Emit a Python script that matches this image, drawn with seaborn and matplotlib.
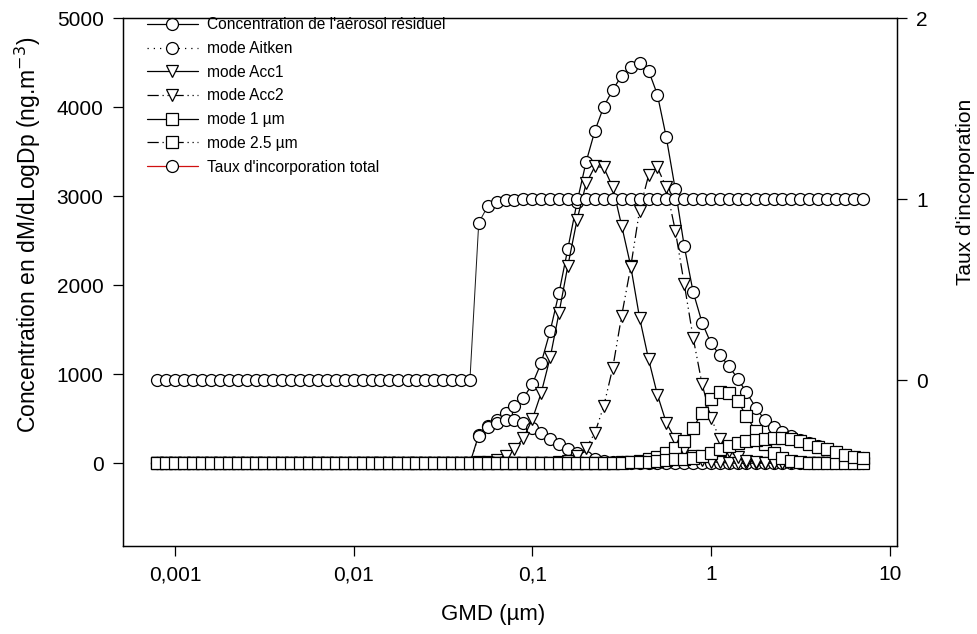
import matplotlib
matplotlib.use("Agg")
import matplotlib.pyplot as plt
from matplotlib.ticker import FixedLocator, FixedFormatter, NullLocator
from matplotlib.lines import Line2D
import seaborn as sns

# Size bins (GMD, µm), 20 bins per decade
gmd = [
    7.94e-4, 8.91e-4,
    1.00e-3, 1.12e-3, 1.26e-3, 1.41e-3, 1.58e-3, 1.78e-3, 2.00e-3, 2.24e-3, 2.51e-3, 2.82e-3,
    3.16e-3, 3.55e-3, 3.98e-3, 4.47e-3, 5.01e-3, 5.62e-3, 6.31e-3, 7.08e-3, 7.94e-3, 8.91e-3,
    1.00e-2, 1.12e-2, 1.26e-2, 1.41e-2, 1.58e-2, 1.78e-2, 2.00e-2, 2.24e-2, 2.51e-2, 2.82e-2,
    3.16e-2, 3.55e-2, 3.98e-2, 4.47e-2, 5.01e-2, 5.62e-2, 6.31e-2, 7.08e-2, 7.94e-2, 8.91e-2,
    0.100, 0.112, 0.126, 0.141, 0.158, 0.178, 0.200, 0.224, 0.251, 0.282,
    0.316, 0.355, 0.398, 0.447, 0.501, 0.562, 0.631, 0.708, 0.794, 0.891,
    1.00, 1.12, 1.26, 1.41, 1.58, 1.78, 2.00, 2.24, 2.51, 2.82,
    3.16, 3.55, 3.98, 4.47, 5.01, 5.62, 6.31, 7.08,
]

# Mass concentrations dM/dlogDp (ng.m-3)
residuel = [0] * 36 + [
    318, 423, 490, 569, 643, 732, 890, 1125, 1490, 1915,
    2410, 2935, 3385, 3735, 4005, 4195, 4350, 4455, 4490, 4410,
    4140, 3660, 3075, 2440, 1925, 1580, 1345, 1215, 1090, 950,
    795, 625, 485, 405, 350, 305, 262, 222, 188, 157,
    124, 96, 73, 55,
]
aitken = [0] * 36 + [
    310, 405, 455, 490, 485, 450, 395, 335, 275, 210,
    155, 110, 75, 48, 30, 18, 10, 5, 2,
] + [0] * 25
acc1 = [0] * 36 + [
    8, 18, 35, 79, 158, 282, 495, 788, 1194, 1689,
    2218, 2736, 3142, 3333, 3322, 3097, 2669, 2218, 1636, 1170,
    770, 454, 270, 150, 80, 38, 18, 8, 3,
] + [0] * 15
acc2 = [0] * 44 + [
    5, 12, 30, 80, 172, 341, 642, 1073, 1655, 2200,
    2838, 3232, 3322, 3097, 2613, 2016, 1411, 890, 510, 270,
    140, 65, 30, 12, 5, 2,
] + [0] * 10
mode_1um = [0] * 50 + [
    2, 4, 8, 15, 25, 45, 75, 116, 172, 248,
    397, 566, 721, 800, 790, 698, 529, 360, 210, 115,
    60, 30, 15, 7, 3, 1,
] + [0] * 4
mode_25um = [0] * 52 + [
    5, 8, 12, 17, 24, 32, 42, 50, 62, 82,
    116, 158, 191, 222, 246, 260, 270, 279, 281, 272,
    245, 213, 183, 155, 122, 94, 71, 54,
]

# Total incorporation rate (right axis)
taux = [0] * 36 + [0.87, 0.96, 0.985, 0.993, 0.997] + [1.0] * 39

sns.set_theme(style="ticks")
plt.rcParams["font.family"] = ["Liberation Sans", "DejaVu Sans"]
plt.rcParams.update({"text.color": "black", "axes.labelcolor": "black",
                     "xtick.color": "black", "ytick.color": "black",
                     "axes.edgecolor": "black"})

fig = plt.figure(figsize=(9.78, 6.34), dpi=100)
ax = fig.add_axes([0.1258, 0.1388, 0.7914, 0.8328])

ms = 8.6
mew = 0.9
lw = 0.9
dashdotdot = (0, (9, 3, 1, 3, 1, 3))
dotted = (0, (1, 4))

series = [
    ("Concentration de l'aérosol résiduel", residuel, "o", "-"),
    ("mode Aitken", aitken, "o", dotted),
    ("mode Acc1", acc1, "v", "-"),
    ("mode Acc2", acc2, "v", dashdotdot),
    ("mode 1 µm", mode_1um, "s", "-"),
    ("mode 2.5 µm", mode_25um, "s", dashdotdot),
]

handles = []
for label, values, mk, ls in series:
    sns.lineplot(x=gmd, y=values, ax=ax, color="black", linewidth=lw,
                 linestyle=ls, marker=mk, markersize=ms,
                 markerfacecolor="white", markeredgecolor="black",
                 markeredgewidth=mew, legend=False)
    handles.append(Line2D([], [], color="black", linewidth=lw, linestyle=ls,
                          marker=mk, markersize=ms, markerfacecolor="white",
                          markeredgecolor="black", markeredgewidth=mew,
                          label=label))

ax.set_xscale("log")
ax.set_xlim(5.11e-4, 11.0)
ax.set_ylim(-930, 5000)
ax.xaxis.set_major_locator(FixedLocator([0.001, 0.01, 0.1, 1, 10]))
ax.xaxis.set_major_formatter(FixedFormatter(["0,001", "0,01", "0,1", "1", "10"]))
ax.xaxis.set_minor_locator(NullLocator())
ax.set_yticks([0, 1000, 2000, 3000, 4000, 5000])

ax2 = ax.twinx()
sns.lineplot(x=gmd, y=taux, ax=ax2, color="#1a1a1a", linewidth=lw * 0.8,
             marker="o", markersize=ms, markerfacecolor="white",
             markeredgecolor="black", markeredgewidth=mew, legend=False)
handles.append(Line2D([], [], color="#d01010", linewidth=lw, marker="o",
                      markersize=ms, markerfacecolor="white",
                      markeredgecolor="black", markeredgewidth=mew,
                      label="Taux d'incorporation total"))
ax2.set_ylim(-0.915, 2.0)
ax2.set_yticks([0, 1, 2])
ax2.set_yticklabels(["0", "1", "2"])

for a in (ax, ax2):
    for s in a.spines.values():
        s.set_linewidth(0.9)
        s.set_color("black")
    a.tick_params(direction="out", length=7, width=0.9, colors="black",
                  labelsize=15, pad=7)

ax.set_xlabel("GMD (µm)", fontsize=16, color="black")
ax.xaxis.set_label_coords(0.478, -0.109)
ax.set_ylabel("Concentration en dM/dLogDp (ng.m$^{-3}$)", fontsize=16.5, color="black")
ax.yaxis.set_label_coords(-0.103, 0.59)
ax2.set_ylabel("Taux d'incorporation", fontsize=15, color="black")
ax2.yaxis.set_label_coords(1.076, 0.67)

leg = ax.legend(handles=handles, loc="upper left", bbox_to_anchor=(0.023, 1.013),
                frameon=False, fontsize=11.2, handlelength=3.25, handletextpad=0.6,
                labelspacing=0.56, borderaxespad=0.0)
for t in leg.get_texts():
    t.set_color("black")

fig.savefig("out.png", dpi=100)
